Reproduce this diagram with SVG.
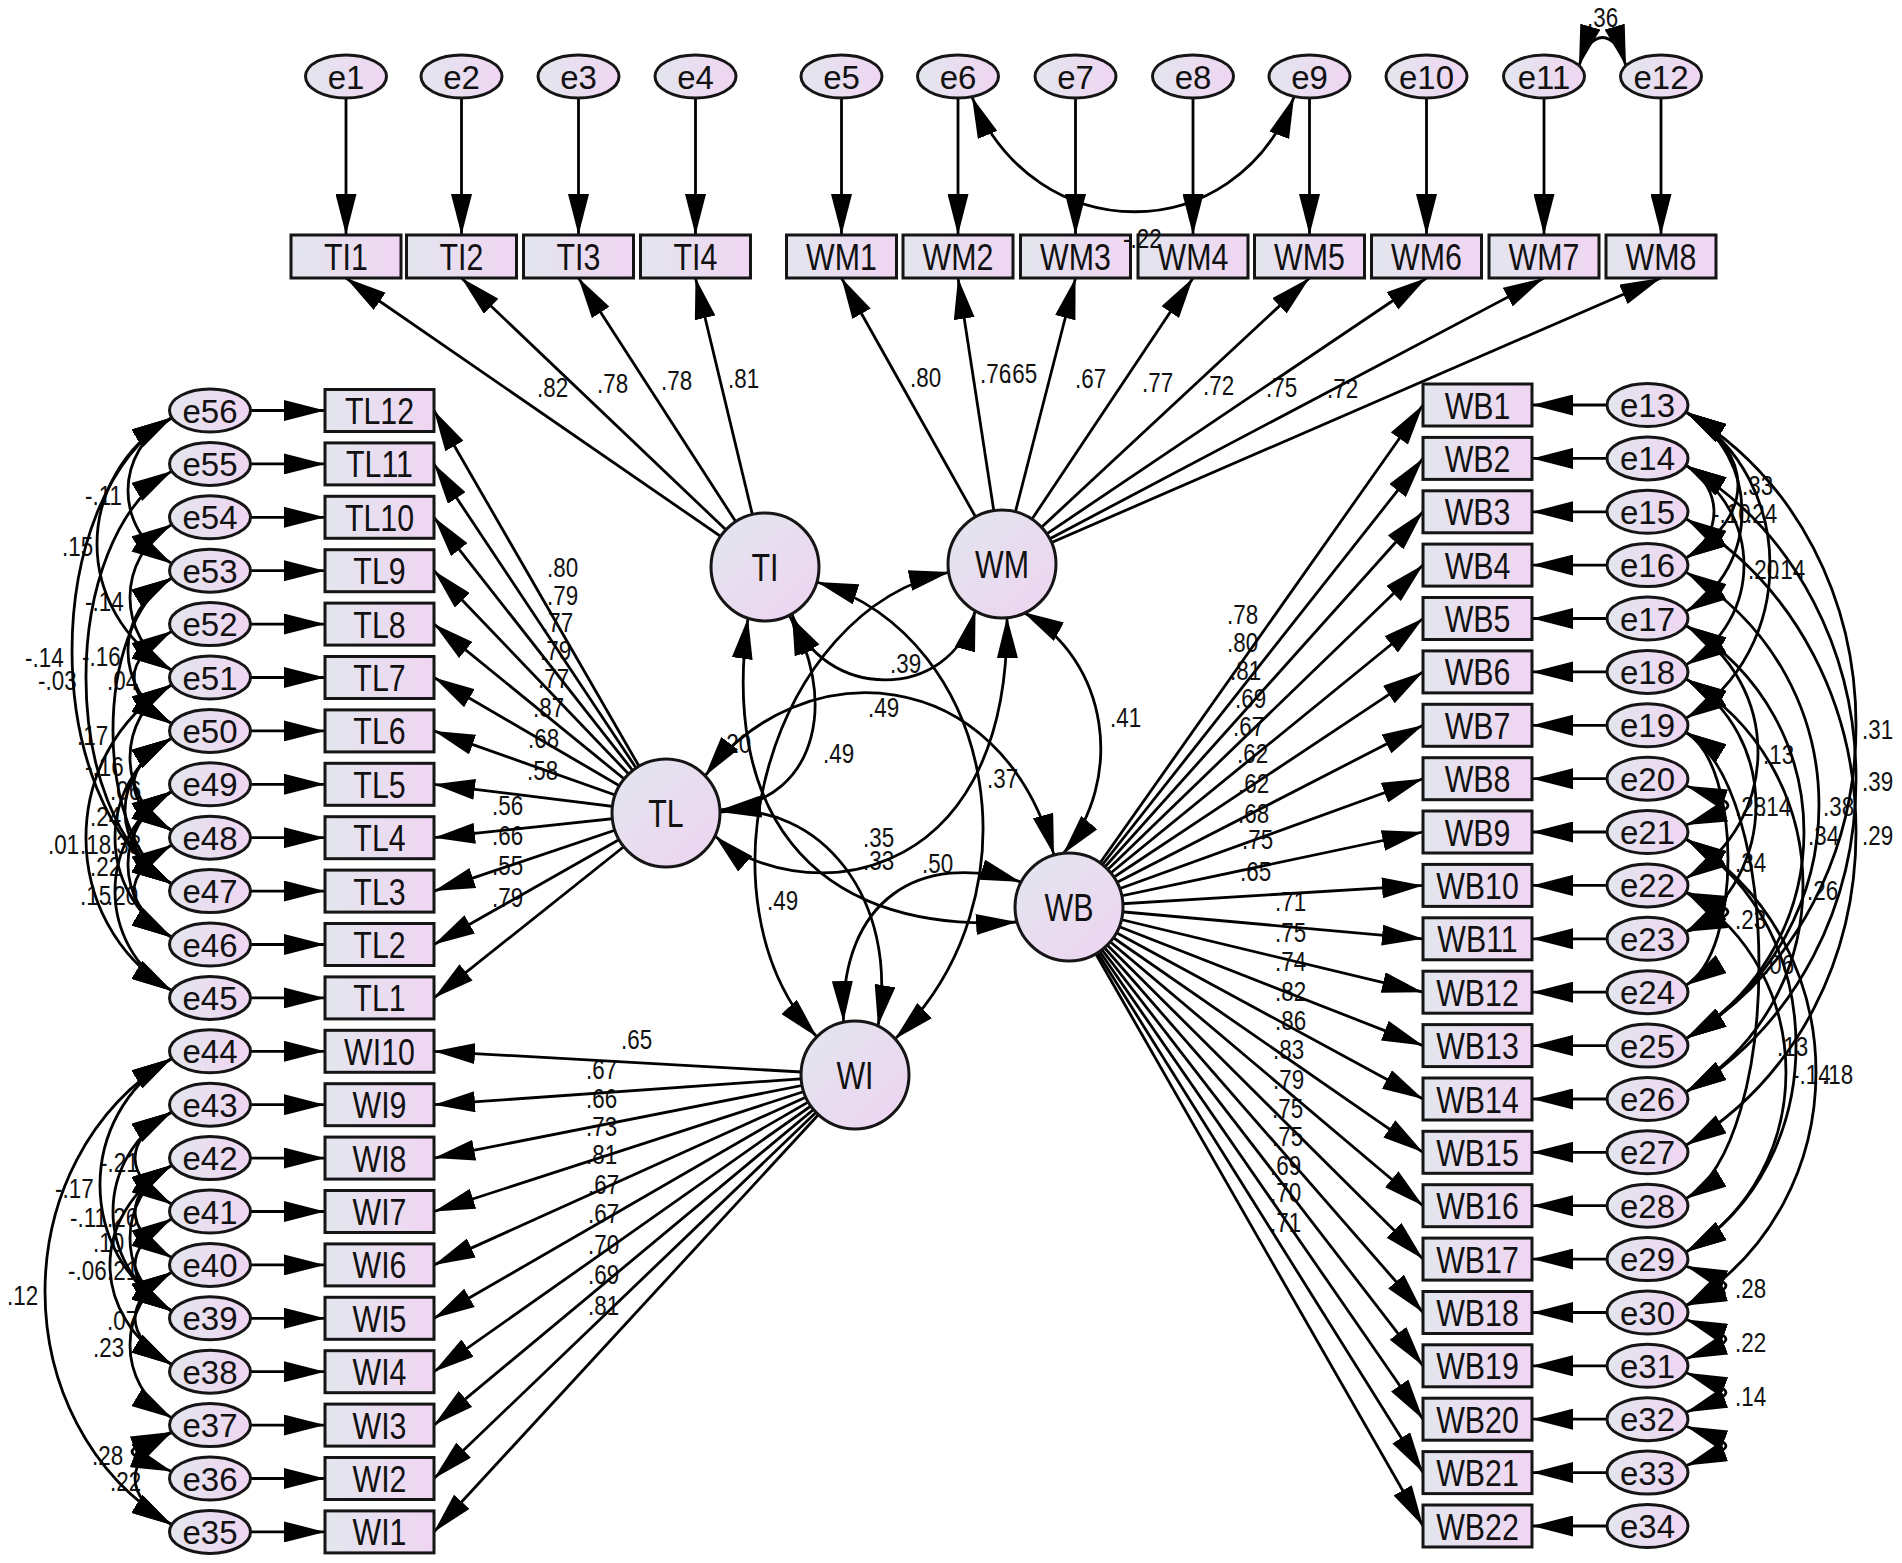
<svg xmlns="http://www.w3.org/2000/svg" width="1902" height="1563" viewBox="0 0 1902 1563">
<defs>
<style>
.ln{stroke:#000;stroke-width:2.8;fill:none;marker-end:url(#ah)}
.cv{stroke:#000;stroke-width:2.8;fill:none;marker-start:url(#ah);marker-end:url(#ah)}
.box{fill:url(#gb);stroke:#151515;stroke-width:3}
.el{fill:url(#gb);stroke:#151515;stroke-width:3}
.lat{fill:url(#gc);stroke:#151515;stroke-width:3}
text{font-family:"Liberation Sans",Arial,sans-serif;fill:#111}
.tb{font-size:37px;text-anchor:middle}
.te{font-size:33px;text-anchor:middle}
.tt{font-size:38px;text-anchor:middle}
.tn{font-size:28px}
</style>
<linearGradient id="gb" x1="0" y1="0" x2="1" y2="0"><stop offset="0" stop-color="#e3e6ee"/><stop offset="1" stop-color="#f0d5f2"/></linearGradient>
<linearGradient id="gc" x1="0" y1="0" x2="1" y2="1"><stop offset="0" stop-color="#e2e6ee"/><stop offset="1" stop-color="#eed3f1"/></linearGradient>
<marker id="ah" viewBox="0 0 41 21" refX="41" refY="10.5" markerWidth="41" markerHeight="21" markerUnits="userSpaceOnUse" orient="auto-start-reverse"><path d="M0,0 L41,10.5 L0,21 Z" fill="#000"/></marker>
</defs>
<rect width="1902" height="1563" fill="#fff"/>

<g id="edge-labels">
<text class="tn" transform="translate(537,397) scale(0.8,1)">.82</text>
<text class="tn" transform="translate(597,393) scale(0.8,1)">.78</text>
<text class="tn" transform="translate(661,390) scale(0.8,1)">.78</text>
<text class="tn" transform="translate(728,388) scale(0.8,1)">.81</text>
<text class="tn" transform="translate(910,387) scale(0.8,1)">.80</text>
<text class="tn" transform="translate(980,383) scale(0.8,1)">.76</text>
<text class="tn" transform="translate(1006,383) scale(0.8,1)">.65</text>
<text class="tn" transform="translate(1075,388) scale(0.8,1)">.67</text>
<text class="tn" transform="translate(1142,392) scale(0.8,1)">.77</text>
<text class="tn" transform="translate(1203,395) scale(0.8,1)">.72</text>
<text class="tn" transform="translate(1266,397) scale(0.8,1)">.75</text>
<text class="tn" transform="translate(1327,398) scale(0.8,1)">.72</text>
<text class="tn" transform="translate(1587,27) scale(0.8,1)">.36</text>
<text class="tn" transform="translate(547,577) scale(0.8,1)">.80</text>
<text class="tn" transform="translate(547,605) scale(0.8,1)">.79</text>
<text class="tn" transform="translate(542,632) scale(0.8,1)">.77</text>
<text class="tn" transform="translate(540,660) scale(0.8,1)">.79</text>
<text class="tn" transform="translate(538,688) scale(0.8,1)">.77</text>
<text class="tn" transform="translate(533,717) scale(0.8,1)">.87</text>
<text class="tn" transform="translate(528,748) scale(0.8,1)">.68</text>
<text class="tn" transform="translate(527,780) scale(0.8,1)">.58</text>
<text class="tn" transform="translate(492,815) scale(0.8,1)">.56</text>
<text class="tn" transform="translate(492,845) scale(0.8,1)">.66</text>
<text class="tn" transform="translate(492,875) scale(0.8,1)">.55</text>
<text class="tn" transform="translate(492,907) scale(0.8,1)">.79</text>
<text class="tn" transform="translate(621,1049) scale(0.8,1)">.65</text>
<text class="tn" transform="translate(586,1079) scale(0.8,1)">.67</text>
<text class="tn" transform="translate(586,1108) scale(0.8,1)">.66</text>
<text class="tn" transform="translate(586,1136) scale(0.8,1)">.73</text>
<text class="tn" transform="translate(586,1164) scale(0.8,1)">.81</text>
<text class="tn" transform="translate(588,1194) scale(0.8,1)">.67</text>
<text class="tn" transform="translate(588,1223) scale(0.8,1)">.67</text>
<text class="tn" transform="translate(588,1254) scale(0.8,1)">.70</text>
<text class="tn" transform="translate(588,1284) scale(0.8,1)">.69</text>
<text class="tn" transform="translate(588,1315) scale(0.8,1)">.81</text>
<text class="tn" transform="translate(1227,624) scale(0.8,1)">.78</text>
<text class="tn" transform="translate(1227,652) scale(0.8,1)">.80</text>
<text class="tn" transform="translate(1230,680) scale(0.8,1)">.81</text>
<text class="tn" transform="translate(1235,708) scale(0.8,1)">.69</text>
<text class="tn" transform="translate(1233,736) scale(0.8,1)">.67</text>
<text class="tn" transform="translate(1237,763) scale(0.8,1)">.62</text>
<text class="tn" transform="translate(1238,793) scale(0.8,1)">.62</text>
<text class="tn" transform="translate(1238,823) scale(0.8,1)">.68</text>
<text class="tn" transform="translate(1242,849) scale(0.8,1)">.75</text>
<text class="tn" transform="translate(1240,881) scale(0.8,1)">.65</text>
<text class="tn" transform="translate(1275,911) scale(0.8,1)">.71</text>
<text class="tn" transform="translate(1275,942) scale(0.8,1)">.75</text>
<text class="tn" transform="translate(1275,971) scale(0.8,1)">.74</text>
<text class="tn" transform="translate(1275,1001) scale(0.8,1)">.82</text>
<text class="tn" transform="translate(1275,1030) scale(0.8,1)">.86</text>
<text class="tn" transform="translate(1273,1059) scale(0.8,1)">.83</text>
<text class="tn" transform="translate(1273,1089) scale(0.8,1)">.79</text>
<text class="tn" transform="translate(1272,1118) scale(0.8,1)">.75</text>
<text class="tn" transform="translate(1272,1146) scale(0.8,1)">.75</text>
<text class="tn" transform="translate(1270,1175) scale(0.8,1)">.69</text>
<text class="tn" transform="translate(1270,1202) scale(0.8,1)">.70</text>
<text class="tn" transform="translate(1270,1232) scale(0.8,1)">.71</text>
<text class="tn" transform="translate(890,673) scale(0.8,1)">.39</text>
<text class="tn" transform="translate(868,717) scale(0.8,1)">.49</text>
<text class="tn" transform="translate(823,763) scale(0.8,1)">.49</text>
<text class="tn" transform="translate(767,910) scale(0.8,1)">.49</text>
<text class="tn" transform="translate(1110,727) scale(0.8,1)">.41</text>
<text class="tn" transform="translate(987,788) scale(0.8,1)">.37</text>
<text class="tn" transform="translate(863,847) scale(0.8,1)">.35</text>
<text class="tn" transform="translate(863,870) scale(0.8,1)">.33</text>
<text class="tn" transform="translate(922,873) scale(0.8,1)">.50</text>
<text class="tn" transform="translate(720,753) scale(0.8,1)">.20</text>
<text class="tn" transform="translate(85,505) scale(0.8,1)">-.11</text>
<text class="tn" transform="translate(62,556) scale(0.8,1)">.15</text>
<text class="tn" transform="translate(85,611) scale(0.8,1)">-.14</text>
<text class="tn" transform="translate(25,667) scale(0.8,1)">-.14</text>
<text class="tn" transform="translate(82,666) scale(0.8,1)">-.16</text>
<text class="tn" transform="translate(38,690) scale(0.8,1)">-.03</text>
<text class="tn" transform="translate(107,690) scale(0.8,1)">.04</text>
<text class="tn" transform="translate(77,745) scale(0.8,1)">.17</text>
<text class="tn" transform="translate(85,776) scale(0.8,1)">-.16</text>
<text class="tn" transform="translate(110,800) scale(0.8,1)">.06</text>
<text class="tn" transform="translate(90,826) scale(0.8,1)">.24</text>
<text class="tn" transform="translate(48,854) scale(0.8,1)">.01</text>
<text class="tn" transform="translate(80,854) scale(0.8,1)">.18</text>
<text class="tn" transform="translate(110,854) scale(0.8,1)">.33</text>
<text class="tn" transform="translate(90,876) scale(0.8,1)">.22</text>
<text class="tn" transform="translate(80,905) scale(0.8,1)">.15</text>
<text class="tn" transform="translate(107,905) scale(0.8,1)">.20</text>
<text class="tn" transform="translate(100,1172) scale(0.8,1)">-.21</text>
<text class="tn" transform="translate(55,1198) scale(0.8,1)">-.17</text>
<text class="tn" transform="translate(70,1227) scale(0.8,1)">-.11</text>
<text class="tn" transform="translate(107,1227) scale(0.8,1)">.26</text>
<text class="tn" transform="translate(93,1252) scale(0.8,1)">.10</text>
<text class="tn" transform="translate(68,1280) scale(0.8,1)">-.06</text>
<text class="tn" transform="translate(107,1280) scale(0.8,1)">.21</text>
<text class="tn" transform="translate(7,1305) scale(0.8,1)">.12</text>
<text class="tn" transform="translate(107,1330) scale(0.8,1)">.07</text>
<text class="tn" transform="translate(93,1357) scale(0.8,1)">.23</text>
<text class="tn" transform="translate(92,1465) scale(0.8,1)">.28</text>
<text class="tn" transform="translate(110,1491) scale(0.8,1)">.22</text>
<text class="tn" transform="translate(1742,495) scale(0.8,1)">.33</text>
<text class="tn" transform="translate(1712,523) scale(0.8,1)">-.10</text>
<text class="tn" transform="translate(1746,523) scale(0.8,1)">.24</text>
<text class="tn" transform="translate(1748,579) scale(0.8,1)">.20</text>
<text class="tn" transform="translate(1774,579) scale(0.8,1)">.14</text>
<text class="tn" transform="translate(1763,764) scale(0.8,1)">.13</text>
<text class="tn" transform="translate(1862,739) scale(0.8,1)">.31</text>
<text class="tn" transform="translate(1862,791) scale(0.8,1)">.39</text>
<text class="tn" transform="translate(1862,845) scale(0.8,1)">.29</text>
<text class="tn" transform="translate(1735,816) scale(0.8,1)">.28</text>
<text class="tn" transform="translate(1760,816) scale(0.8,1)">.14</text>
<text class="tn" transform="translate(1823,816) scale(0.8,1)">.38</text>
<text class="tn" transform="translate(1808,845) scale(0.8,1)">.34</text>
<text class="tn" transform="translate(1735,872) scale(0.8,1)">.34</text>
<text class="tn" transform="translate(1807,900) scale(0.8,1)">.26</text>
<text class="tn" transform="translate(1735,929) scale(0.8,1)">.23</text>
<text class="tn" transform="translate(1763,974) scale(0.8,1)">.06</text>
<text class="tn" transform="translate(1777,1056) scale(0.8,1)">.13</text>
<text class="tn" transform="translate(1792,1084) scale(0.8,1)">-.14</text>
<text class="tn" transform="translate(1822,1084) scale(0.8,1)">.18</text>
<text class="tn" transform="translate(1735,1298) scale(0.8,1)">.28</text>
<text class="tn" transform="translate(1735,1352) scale(0.8,1)">.22</text>
<text class="tn" transform="translate(1735,1406) scale(0.8,1)">.14</text>
</g>

<g id="connectors">
<path class="ln" d="M346,98 L346,235"/>
<path class="ln" d="M461.5,98 L461.5,235"/>
<path class="ln" d="M578.5,98 L578.5,235"/>
<path class="ln" d="M695.5,98 L695.5,235"/>
<path class="ln" d="M841.5,98 L841.5,235"/>
<path class="ln" d="M958,98 L958,235"/>
<path class="ln" d="M1075.5,98 L1075.5,235"/>
<path class="ln" d="M1193,98 L1193,235"/>
<path class="ln" d="M1309.5,98 L1309.5,235"/>
<path class="ln" d="M1426.5,98 L1426.5,235"/>
<path class="ln" d="M1544,98 L1544,235"/>
<path class="ln" d="M1661,98 L1661,235"/>
<path class="cv" d="M972,97 C1035,250 1235,250 1294,97"/>
<path class="cv" d="M1579,66 C1590,28 1615,28 1626,66"/>
<path class="ln" d="M765,567 L346,278"/>
<path class="ln" d="M765,567 L461.5,278"/>
<path class="ln" d="M765,567 L578.5,278"/>
<path class="ln" d="M765,567 L695.5,278"/>
<path class="ln" d="M1002,564 L841.5,278"/>
<path class="ln" d="M1002,564 L958,278"/>
<path class="ln" d="M1002,564 L1075.5,278"/>
<path class="ln" d="M1002,564 L1193,278"/>
<path class="ln" d="M1002,564 L1309.5,278"/>
<path class="ln" d="M1002,564 L1426.5,278"/>
<path class="ln" d="M1002,564 L1544,278"/>
<path class="ln" d="M1002,564 L1661,278"/>
<path class="ln" d="M666,813 L434,410.5"/>
<path class="ln" d="M666,813 L434,463.9"/>
<path class="ln" d="M666,813 L434,517.3"/>
<path class="ln" d="M666,813 L434,570.7"/>
<path class="ln" d="M666,813 L434,624.1"/>
<path class="ln" d="M666,813 L434,677.5"/>
<path class="ln" d="M666,813 L434,730.9"/>
<path class="ln" d="M666,813 L434,784.3"/>
<path class="ln" d="M666,813 L434,837.7"/>
<path class="ln" d="M666,813 L434,891.1"/>
<path class="ln" d="M666,813 L434,944.5"/>
<path class="ln" d="M666,813 L434,997.9"/>
<path class="ln" d="M855,1075 L434,1051.3"/>
<path class="ln" d="M855,1075 L434,1104.7"/>
<path class="ln" d="M855,1075 L434,1158.1"/>
<path class="ln" d="M855,1075 L434,1211.5"/>
<path class="ln" d="M855,1075 L434,1264.9"/>
<path class="ln" d="M855,1075 L434,1318.3"/>
<path class="ln" d="M855,1075 L434,1371.7"/>
<path class="ln" d="M855,1075 L434,1425.1"/>
<path class="ln" d="M855,1075 L434,1478.5"/>
<path class="ln" d="M855,1075 L434,1531.9"/>
<path class="ln" d="M1069,907 L1423,405"/>
<path class="ln" d="M1069,907 L1423,458.4"/>
<path class="ln" d="M1069,907 L1423,511.8"/>
<path class="ln" d="M1069,907 L1423,565.1"/>
<path class="ln" d="M1069,907 L1423,618.5"/>
<path class="ln" d="M1069,907 L1423,671.9"/>
<path class="ln" d="M1069,907 L1423,725.3"/>
<path class="ln" d="M1069,907 L1423,778.7"/>
<path class="ln" d="M1069,907 L1423,832"/>
<path class="ln" d="M1069,907 L1423,885.4"/>
<path class="ln" d="M1069,907 L1423,938.8"/>
<path class="ln" d="M1069,907 L1423,992.2"/>
<path class="ln" d="M1069,907 L1423,1045.6"/>
<path class="ln" d="M1069,907 L1423,1099"/>
<path class="ln" d="M1069,907 L1423,1152.3"/>
<path class="ln" d="M1069,907 L1423,1205.7"/>
<path class="ln" d="M1069,907 L1423,1259.1"/>
<path class="ln" d="M1069,907 L1423,1312.5"/>
<path class="ln" d="M1069,907 L1423,1365.8"/>
<path class="ln" d="M1069,907 L1423,1419.2"/>
<path class="ln" d="M1069,907 L1423,1472.6"/>
<path class="ln" d="M1069,907 L1423,1526"/>
<path class="ln" d="M250.5,410.5 L325,410.5"/>
<path class="ln" d="M250.5,463.9 L325,463.9"/>
<path class="ln" d="M250.5,517.3 L325,517.3"/>
<path class="ln" d="M250.5,570.7 L325,570.7"/>
<path class="ln" d="M250.5,624.1 L325,624.1"/>
<path class="ln" d="M250.5,677.5 L325,677.5"/>
<path class="ln" d="M250.5,730.9 L325,730.9"/>
<path class="ln" d="M250.5,784.3 L325,784.3"/>
<path class="ln" d="M250.5,837.7 L325,837.7"/>
<path class="ln" d="M250.5,891.1 L325,891.1"/>
<path class="ln" d="M250.5,944.5 L325,944.5"/>
<path class="ln" d="M250.5,997.9 L325,997.9"/>
<path class="ln" d="M250.5,1051.3 L325,1051.3"/>
<path class="ln" d="M250.5,1104.7 L325,1104.7"/>
<path class="ln" d="M250.5,1158.1 L325,1158.1"/>
<path class="ln" d="M250.5,1211.5 L325,1211.5"/>
<path class="ln" d="M250.5,1264.9 L325,1264.9"/>
<path class="ln" d="M250.5,1318.3 L325,1318.3"/>
<path class="ln" d="M250.5,1371.7 L325,1371.7"/>
<path class="ln" d="M250.5,1425.1 L325,1425.1"/>
<path class="ln" d="M250.5,1478.5 L325,1478.5"/>
<path class="ln" d="M250.5,1531.9 L325,1531.9"/>
<path class="ln" d="M1607,405 L1532,405"/>
<path class="ln" d="M1607,458.4 L1532,458.4"/>
<path class="ln" d="M1607,511.8 L1532,511.8"/>
<path class="ln" d="M1607,565.1 L1532,565.1"/>
<path class="ln" d="M1607,618.5 L1532,618.5"/>
<path class="ln" d="M1607,671.9 L1532,671.9"/>
<path class="ln" d="M1607,725.3 L1532,725.3"/>
<path class="ln" d="M1607,778.7 L1532,778.7"/>
<path class="ln" d="M1607,832 L1532,832"/>
<path class="ln" d="M1607,885.4 L1532,885.4"/>
<path class="ln" d="M1607,938.8 L1532,938.8"/>
<path class="ln" d="M1607,992.2 L1532,992.2"/>
<path class="ln" d="M1607,1045.6 L1532,1045.6"/>
<path class="ln" d="M1607,1099 L1532,1099"/>
<path class="ln" d="M1607,1152.3 L1532,1152.3"/>
<path class="ln" d="M1607,1205.7 L1532,1205.7"/>
<path class="ln" d="M1607,1259.1 L1532,1259.1"/>
<path class="ln" d="M1607,1312.5 L1532,1312.5"/>
<path class="ln" d="M1607,1365.8 L1532,1365.8"/>
<path class="ln" d="M1607,1419.2 L1532,1419.2"/>
<path class="ln" d="M1607,1472.6 L1532,1472.6"/>
<path class="ln" d="M1607,1526 L1532,1526"/>
<path class="cv" d="M792,614 C820,700 950,705 975.5,610"/>
<path class="cv" d="M789,615 C835,690 825,800 720,810"/>
<path class="cv" d="M748,618 C722,800 800,935 1017,922"/>
<path class="cv" d="M950,572 C770,610 690,900 817,1037"/>
<path class="cv" d="M705,776 C800,650 1000,660 1054,855"/>
<path class="cv" d="M817,582 C1000,640 1040,900 895,1039"/>
<path class="cv" d="M715,836 C790,905 1010,900 1007,617"/>
<path class="cv" d="M1023,612 C1110,660 1125,780 1063,854"/>
<path class="cv" d="M843.5,1022 C840,900 920,850 1021,882"/>
<path class="cv" d="M878,1026 C900,900 820,800 720,812"/>
<path class="cv" d="M172,417.5 C113.3,452.7 113.3,528.5 172,563.7"/>
<path class="cv" d="M172,417.5 C72,477.5 72,610.5 172,670.5"/>
<path class="cv" d="M172,524.3 C116,557.9 116,636.9 172,670.5"/>
<path class="cv" d="M172,417.5 C38.7,497.5 38.7,804.1 172,884.1"/>
<path class="cv" d="M172,577.7 C113.3,612.9 113.3,688.7 172,723.9"/>
<path class="cv" d="M172,470.9 C57.3,539.7 57.3,815.3 172,884.1"/>
<path class="cv" d="M172,631.1 C121.3,661.5 121.3,693.5 172,723.9"/>
<path class="cv" d="M172,577.7 C93.3,624.9 93.3,836.9 172,884.1"/>
<path class="cv" d="M172,684.5 C116,718.1 116,797.1 172,830.7"/>
<path class="cv" d="M172,737.9 C121.3,768.3 121.3,800.3 172,830.7"/>
<path class="cv" d="M172,737.9 C109.3,775.5 109.3,846.5 172,884.1"/>
<path class="cv" d="M172,684.5 C57.3,753.3 57.3,922.1 172,990.9"/>
<path class="cv" d="M172,737.9 C96,783.5 96,891.9 172,937.5"/>
<path class="cv" d="M172,791.3 C121.3,821.7 121.3,853.7 172,884.1"/>
<path class="cv" d="M172,791.3 C113.3,826.5 113.3,902.3 172,937.5"/>
<path class="cv" d="M172,791.3 C96,836.9 96,945.3 172,990.9"/>
<path class="cv" d="M172,844.7 C121.3,875.1 121.3,907.1 172,937.5"/>
<path class="cv" d="M172,1111.7 C122.7,1141.3 122.7,1174.9 172,1204.5"/>
<path class="cv" d="M172,1058.3 C76,1115.9 76,1253.7 172,1311.3"/>
<path class="cv" d="M172,1111.7 C93.3,1158.9 93.3,1264.1 172,1311.3"/>
<path class="cv" d="M172,1165.1 C122.7,1194.7 122.7,1228.3 172,1257.9"/>
<path class="cv" d="M172,1165.1 C116,1198.7 116,1277.7 172,1311.3"/>
<path class="cv" d="M172,1165.1 C89.3,1214.7 89.3,1315.1 172,1364.7"/>
<path class="cv" d="M172,1218.5 C122.7,1248.1 122.7,1281.7 172,1311.3"/>
<path class="cv" d="M172,1058.3 C2.7,1159.9 2.7,1423.3 172,1524.9"/>
<path class="cv" d="M172,1271.9 C122.7,1301.5 122.7,1335.1 172,1364.7"/>
<path class="cv" d="M172,1271.9 C116,1305.5 116,1384.5 172,1418.1"/>
<path class="cv" d="M172,1432.1 C118.7,1451.8 118.7,1451.8 172,1471.5"/>
<path class="cv" d="M172,1432.1 C122.7,1461.7 122.7,1495.3 172,1524.9"/>
<path class="cv" d="M1686,412 C1755.3,453.6 1755.3,516.5 1686,558.1"/>
<path class="cv" d="M1686,465.4 C1723.3,487.8 1723.3,535.7 1686,558.1"/>
<path class="cv" d="M1686,412 C1760.7,456.8 1760.7,566.7 1686,611.5"/>
<path class="cv" d="M1686,465.4 C1763.3,511.8 1763.3,618.5 1686,664.9"/>
<path class="cv" d="M1686,412 C1798,479.2 1798,651.1 1686,718.3"/>
<path class="cv" d="M1686,625.5 C1782,683.1 1782,820.8 1686,878.4"/>
<path class="cv" d="M1686,412 C1912.7,548 1912.7,902.6 1686,1038.6"/>
<path class="cv" d="M1686,465.4 C1912.7,601.4 1912.7,956 1686,1092"/>
<path class="cv" d="M1686,518.8 C1912.7,654.8 1912.7,1009.3 1686,1145.3"/>
<path class="cv" d="M1686,785.7 C1742,805.4 1742,805.4 1686,825"/>
<path class="cv" d="M1686,678.9 C1779.3,734.9 1779.3,875.8 1686,931.8"/>
<path class="cv" d="M1686,572.1 C1863.3,678.5 1863.3,932.2 1686,1038.6"/>
<path class="cv" d="M1686,625.5 C1843.3,719.9 1843.3,944.2 1686,1038.6"/>
<path class="cv" d="M1686,732.3 C1742,765.9 1742,951.6 1686,985.2"/>
<path class="cv" d="M1686,678.9 C1842,772.5 1842,998.4 1686,1092"/>
<path class="cv" d="M1686,892.4 C1742,912.1 1742,912.1 1686,931.8"/>
<path class="cv" d="M1686,732.3 C1783.3,790.7 1783.3,1140.3 1686,1198.7"/>
<path class="cv" d="M1686,839 C1832.7,927 1832.7,1164.1 1686,1252.1"/>
<path class="cv" d="M1686,892.4 C1819.3,972.4 1819.3,1172.1 1686,1252.1"/>
<path class="cv" d="M1686,839 C1859.3,943 1859.3,1201.5 1686,1305.5"/>
<path class="cv" d="M1686,1266.1 C1739.3,1285.8 1739.3,1285.8 1686,1305.5"/>
<path class="cv" d="M1686,1319.5 C1739.3,1339.2 1739.3,1339.2 1686,1358.8"/>
<path class="cv" d="M1686,1372.8 C1739.3,1392.5 1739.3,1392.5 1686,1412.2"/>
<path class="cv" d="M1686,1426.2 C1739.3,1445.9 1739.3,1445.9 1686,1465.6"/>
</g>

<g id="TI"><circle class="lat" cx="765" cy="567" r="54"/><text class="tt" transform="translate(765,581) scale(0.8,1)">TI</text></g>
<g id="WM"><circle class="lat" cx="1002" cy="564" r="54"/><text class="tt" transform="translate(1002,578) scale(0.8,1)">WM</text></g>
<g id="TL"><circle class="lat" cx="666" cy="813" r="54"/><text class="tt" transform="translate(666,827) scale(0.8,1)">TL</text></g>
<g id="WB"><circle class="lat" cx="1069" cy="907" r="54"/><text class="tt" transform="translate(1069,921) scale(0.8,1)">WB</text></g>
<g id="WI"><circle class="lat" cx="855" cy="1075" r="54"/><text class="tt" transform="translate(855,1089) scale(0.8,1)">WI</text></g>

<g id="TI1"><rect class="box" x="291" y="235" width="110" height="43"/><text class="tb" transform="translate(346,270) scale(0.82,1)">TI1</text></g>
<g id="TI2"><rect class="box" x="406.5" y="235" width="110" height="43"/><text class="tb" transform="translate(461.5,270) scale(0.82,1)">TI2</text></g>
<g id="TI3"><rect class="box" x="523.5" y="235" width="110" height="43"/><text class="tb" transform="translate(578.5,270) scale(0.82,1)">TI3</text></g>
<g id="TI4"><rect class="box" x="640.5" y="235" width="110" height="43"/><text class="tb" transform="translate(695.5,270) scale(0.82,1)">TI4</text></g>
<g id="WM1"><rect class="box" x="786.5" y="235" width="110" height="43"/><text class="tb" transform="translate(841.5,270) scale(0.82,1)">WM1</text></g>
<g id="WM2"><rect class="box" x="903" y="235" width="110" height="43"/><text class="tb" transform="translate(958,270) scale(0.82,1)">WM2</text></g>
<g id="WM3"><rect class="box" x="1020.5" y="235" width="110" height="43"/><text class="tb" transform="translate(1075.5,270) scale(0.82,1)">WM3</text></g>
<g id="WM4"><rect class="box" x="1138" y="235" width="110" height="43"/><text class="tb" transform="translate(1193,270) scale(0.82,1)">WM4</text></g>
<g id="WM5"><rect class="box" x="1254.5" y="235" width="110" height="43"/><text class="tb" transform="translate(1309.5,270) scale(0.82,1)">WM5</text></g>
<g id="WM6"><rect class="box" x="1371.5" y="235" width="110" height="43"/><text class="tb" transform="translate(1426.5,270) scale(0.82,1)">WM6</text></g>
<g id="WM7"><rect class="box" x="1489" y="235" width="110" height="43"/><text class="tb" transform="translate(1544,270) scale(0.82,1)">WM7</text></g>
<g id="WM8"><rect class="box" x="1606" y="235" width="110" height="43"/><text class="tb" transform="translate(1661,270) scale(0.82,1)">WM8</text></g>

<g id="e1"><ellipse class="el" cx="346" cy="76.5" rx="40.5" ry="21.5"/><text class="te" x="346" y="88.5">e1</text></g>
<g id="e2"><ellipse class="el" cx="461.5" cy="76.5" rx="40.5" ry="21.5"/><text class="te" x="461.5" y="88.5">e2</text></g>
<g id="e3"><ellipse class="el" cx="578.5" cy="76.5" rx="40.5" ry="21.5"/><text class="te" x="578.5" y="88.5">e3</text></g>
<g id="e4"><ellipse class="el" cx="695.5" cy="76.5" rx="40.5" ry="21.5"/><text class="te" x="695.5" y="88.5">e4</text></g>
<g id="e5"><ellipse class="el" cx="841.5" cy="76.5" rx="40.5" ry="21.5"/><text class="te" x="841.5" y="88.5">e5</text></g>
<g id="e6"><ellipse class="el" cx="958" cy="76.5" rx="40.5" ry="21.5"/><text class="te" x="958" y="88.5">e6</text></g>
<g id="e7"><ellipse class="el" cx="1075.5" cy="76.5" rx="40.5" ry="21.5"/><text class="te" x="1075.5" y="88.5">e7</text></g>
<g id="e8"><ellipse class="el" cx="1193" cy="76.5" rx="40.5" ry="21.5"/><text class="te" x="1193" y="88.5">e8</text></g>
<g id="e9"><ellipse class="el" cx="1309.5" cy="76.5" rx="40.5" ry="21.5"/><text class="te" x="1309.5" y="88.5">e9</text></g>
<g id="e10"><ellipse class="el" cx="1426.5" cy="76.5" rx="40.5" ry="21.5"/><text class="te" x="1426.5" y="88.5">e10</text></g>
<g id="e11"><ellipse class="el" cx="1544" cy="76.5" rx="40.5" ry="21.5"/><text class="te" x="1544" y="88.5">e11</text></g>
<g id="e12"><ellipse class="el" cx="1661" cy="76.5" rx="40.5" ry="21.5"/><text class="te" x="1661" y="88.5">e12</text></g>

<g id="TL12"><rect class="box" x="325" y="389.5" width="109" height="42"/><text class="tb" transform="translate(379.5,424) scale(0.82,1)">TL12</text></g>
<g id="TL11"><rect class="box" x="325" y="442.9" width="109" height="42"/><text class="tb" transform="translate(379.5,477.4) scale(0.82,1)">TL11</text></g>
<g id="TL10"><rect class="box" x="325" y="496.3" width="109" height="42"/><text class="tb" transform="translate(379.5,530.8) scale(0.82,1)">TL10</text></g>
<g id="TL9"><rect class="box" x="325" y="549.7" width="109" height="42"/><text class="tb" transform="translate(379.5,584.2) scale(0.82,1)">TL9</text></g>
<g id="TL8"><rect class="box" x="325" y="603.1" width="109" height="42"/><text class="tb" transform="translate(379.5,637.6) scale(0.82,1)">TL8</text></g>
<g id="TL7"><rect class="box" x="325" y="656.5" width="109" height="42"/><text class="tb" transform="translate(379.5,691) scale(0.82,1)">TL7</text></g>
<g id="TL6"><rect class="box" x="325" y="709.9" width="109" height="42"/><text class="tb" transform="translate(379.5,744.4) scale(0.82,1)">TL6</text></g>
<g id="TL5"><rect class="box" x="325" y="763.3" width="109" height="42"/><text class="tb" transform="translate(379.5,797.8) scale(0.82,1)">TL5</text></g>
<g id="TL4"><rect class="box" x="325" y="816.7" width="109" height="42"/><text class="tb" transform="translate(379.5,851.2) scale(0.82,1)">TL4</text></g>
<g id="TL3"><rect class="box" x="325" y="870.1" width="109" height="42"/><text class="tb" transform="translate(379.5,904.6) scale(0.82,1)">TL3</text></g>
<g id="TL2"><rect class="box" x="325" y="923.5" width="109" height="42"/><text class="tb" transform="translate(379.5,958) scale(0.82,1)">TL2</text></g>
<g id="TL1"><rect class="box" x="325" y="976.9" width="109" height="42"/><text class="tb" transform="translate(379.5,1011.4) scale(0.82,1)">TL1</text></g>
<g id="WI10"><rect class="box" x="325" y="1030.3" width="109" height="42"/><text class="tb" transform="translate(379.5,1064.8) scale(0.82,1)">WI10</text></g>
<g id="WI9"><rect class="box" x="325" y="1083.7" width="109" height="42"/><text class="tb" transform="translate(379.5,1118.2) scale(0.82,1)">WI9</text></g>
<g id="WI8"><rect class="box" x="325" y="1137.1" width="109" height="42"/><text class="tb" transform="translate(379.5,1171.6) scale(0.82,1)">WI8</text></g>
<g id="WI7"><rect class="box" x="325" y="1190.5" width="109" height="42"/><text class="tb" transform="translate(379.5,1225) scale(0.82,1)">WI7</text></g>
<g id="WI6"><rect class="box" x="325" y="1243.9" width="109" height="42"/><text class="tb" transform="translate(379.5,1278.4) scale(0.82,1)">WI6</text></g>
<g id="WI5"><rect class="box" x="325" y="1297.3" width="109" height="42"/><text class="tb" transform="translate(379.5,1331.8) scale(0.82,1)">WI5</text></g>
<g id="WI4"><rect class="box" x="325" y="1350.7" width="109" height="42"/><text class="tb" transform="translate(379.5,1385.2) scale(0.82,1)">WI4</text></g>
<g id="WI3"><rect class="box" x="325" y="1404.1" width="109" height="42"/><text class="tb" transform="translate(379.5,1438.6) scale(0.82,1)">WI3</text></g>
<g id="WI2"><rect class="box" x="325" y="1457.5" width="109" height="42"/><text class="tb" transform="translate(379.5,1492) scale(0.82,1)">WI2</text></g>
<g id="WI1"><rect class="box" x="325" y="1510.9" width="109" height="42"/><text class="tb" transform="translate(379.5,1545.4) scale(0.82,1)">WI1</text></g>

<g id="e56"><ellipse class="el" cx="210" cy="410.5" rx="40.5" ry="21.5"/><text class="te" x="210" y="422.5">e56</text></g>
<g id="e55"><ellipse class="el" cx="210" cy="463.9" rx="40.5" ry="21.5"/><text class="te" x="210" y="475.9">e55</text></g>
<g id="e54"><ellipse class="el" cx="210" cy="517.3" rx="40.5" ry="21.5"/><text class="te" x="210" y="529.3">e54</text></g>
<g id="e53"><ellipse class="el" cx="210" cy="570.7" rx="40.5" ry="21.5"/><text class="te" x="210" y="582.7">e53</text></g>
<g id="e52"><ellipse class="el" cx="210" cy="624.1" rx="40.5" ry="21.5"/><text class="te" x="210" y="636.1">e52</text></g>
<g id="e51"><ellipse class="el" cx="210" cy="677.5" rx="40.5" ry="21.5"/><text class="te" x="210" y="689.5">e51</text></g>
<g id="e50"><ellipse class="el" cx="210" cy="730.9" rx="40.5" ry="21.5"/><text class="te" x="210" y="742.9">e50</text></g>
<g id="e49"><ellipse class="el" cx="210" cy="784.3" rx="40.5" ry="21.5"/><text class="te" x="210" y="796.3">e49</text></g>
<g id="e48"><ellipse class="el" cx="210" cy="837.7" rx="40.5" ry="21.5"/><text class="te" x="210" y="849.7">e48</text></g>
<g id="e47"><ellipse class="el" cx="210" cy="891.1" rx="40.5" ry="21.5"/><text class="te" x="210" y="903.1">e47</text></g>
<g id="e46"><ellipse class="el" cx="210" cy="944.5" rx="40.5" ry="21.5"/><text class="te" x="210" y="956.5">e46</text></g>
<g id="e45"><ellipse class="el" cx="210" cy="997.9" rx="40.5" ry="21.5"/><text class="te" x="210" y="1009.9">e45</text></g>
<g id="e44"><ellipse class="el" cx="210" cy="1051.3" rx="40.5" ry="21.5"/><text class="te" x="210" y="1063.3">e44</text></g>
<g id="e43"><ellipse class="el" cx="210" cy="1104.7" rx="40.5" ry="21.5"/><text class="te" x="210" y="1116.7">e43</text></g>
<g id="e42"><ellipse class="el" cx="210" cy="1158.1" rx="40.5" ry="21.5"/><text class="te" x="210" y="1170.1">e42</text></g>
<g id="e41"><ellipse class="el" cx="210" cy="1211.5" rx="40.5" ry="21.5"/><text class="te" x="210" y="1223.5">e41</text></g>
<g id="e40"><ellipse class="el" cx="210" cy="1264.9" rx="40.5" ry="21.5"/><text class="te" x="210" y="1276.9">e40</text></g>
<g id="e39"><ellipse class="el" cx="210" cy="1318.3" rx="40.5" ry="21.5"/><text class="te" x="210" y="1330.3">e39</text></g>
<g id="e38"><ellipse class="el" cx="210" cy="1371.7" rx="40.5" ry="21.5"/><text class="te" x="210" y="1383.7">e38</text></g>
<g id="e37"><ellipse class="el" cx="210" cy="1425.1" rx="40.5" ry="21.5"/><text class="te" x="210" y="1437.1">e37</text></g>
<g id="e36"><ellipse class="el" cx="210" cy="1478.5" rx="40.5" ry="21.5"/><text class="te" x="210" y="1490.5">e36</text></g>
<g id="e35"><ellipse class="el" cx="210" cy="1531.9" rx="40.5" ry="21.5"/><text class="te" x="210" y="1543.9">e35</text></g>

<g id="WB1"><rect class="box" x="1423" y="384" width="109" height="42"/><text class="tb" transform="translate(1477.5,418.5) scale(0.82,1)">WB1</text></g>
<g id="WB2"><rect class="box" x="1423" y="437.4" width="109" height="42"/><text class="tb" transform="translate(1477.5,471.9) scale(0.82,1)">WB2</text></g>
<g id="WB3"><rect class="box" x="1423" y="490.8" width="109" height="42"/><text class="tb" transform="translate(1477.5,525.3) scale(0.82,1)">WB3</text></g>
<g id="WB4"><rect class="box" x="1423" y="544.1" width="109" height="42"/><text class="tb" transform="translate(1477.5,578.6) scale(0.82,1)">WB4</text></g>
<g id="WB5"><rect class="box" x="1423" y="597.5" width="109" height="42"/><text class="tb" transform="translate(1477.5,632) scale(0.82,1)">WB5</text></g>
<g id="WB6"><rect class="box" x="1423" y="650.9" width="109" height="42"/><text class="tb" transform="translate(1477.5,685.4) scale(0.82,1)">WB6</text></g>
<g id="WB7"><rect class="box" x="1423" y="704.3" width="109" height="42"/><text class="tb" transform="translate(1477.5,738.8) scale(0.82,1)">WB7</text></g>
<g id="WB8"><rect class="box" x="1423" y="757.7" width="109" height="42"/><text class="tb" transform="translate(1477.5,792.2) scale(0.82,1)">WB8</text></g>
<g id="WB9"><rect class="box" x="1423" y="811" width="109" height="42"/><text class="tb" transform="translate(1477.5,845.5) scale(0.82,1)">WB9</text></g>
<g id="WB10"><rect class="box" x="1423" y="864.4" width="109" height="42"/><text class="tb" transform="translate(1477.5,898.9) scale(0.82,1)">WB10</text></g>
<g id="WB11"><rect class="box" x="1423" y="917.8" width="109" height="42"/><text class="tb" transform="translate(1477.5,952.3) scale(0.82,1)">WB11</text></g>
<g id="WB12"><rect class="box" x="1423" y="971.2" width="109" height="42"/><text class="tb" transform="translate(1477.5,1005.7) scale(0.82,1)">WB12</text></g>
<g id="WB13"><rect class="box" x="1423" y="1024.6" width="109" height="42"/><text class="tb" transform="translate(1477.5,1059.1) scale(0.82,1)">WB13</text></g>
<g id="WB14"><rect class="box" x="1423" y="1078" width="109" height="42"/><text class="tb" transform="translate(1477.5,1112.5) scale(0.82,1)">WB14</text></g>
<g id="WB15"><rect class="box" x="1423" y="1131.3" width="109" height="42"/><text class="tb" transform="translate(1477.5,1165.8) scale(0.82,1)">WB15</text></g>
<g id="WB16"><rect class="box" x="1423" y="1184.7" width="109" height="42"/><text class="tb" transform="translate(1477.5,1219.2) scale(0.82,1)">WB16</text></g>
<g id="WB17"><rect class="box" x="1423" y="1238.1" width="109" height="42"/><text class="tb" transform="translate(1477.5,1272.6) scale(0.82,1)">WB17</text></g>
<g id="WB18"><rect class="box" x="1423" y="1291.5" width="109" height="42"/><text class="tb" transform="translate(1477.5,1326) scale(0.82,1)">WB18</text></g>
<g id="WB19"><rect class="box" x="1423" y="1344.8" width="109" height="42"/><text class="tb" transform="translate(1477.5,1379.3) scale(0.82,1)">WB19</text></g>
<g id="WB20"><rect class="box" x="1423" y="1398.2" width="109" height="42"/><text class="tb" transform="translate(1477.5,1432.7) scale(0.82,1)">WB20</text></g>
<g id="WB21"><rect class="box" x="1423" y="1451.6" width="109" height="42"/><text class="tb" transform="translate(1477.5,1486.1) scale(0.82,1)">WB21</text></g>
<g id="WB22"><rect class="box" x="1423" y="1505" width="109" height="42"/><text class="tb" transform="translate(1477.5,1539.5) scale(0.82,1)">WB22</text></g>

<g id="e13"><ellipse class="el" cx="1647.5" cy="405" rx="40.5" ry="21.5"/><text class="te" x="1647.5" y="417">e13</text></g>
<g id="e14"><ellipse class="el" cx="1647.5" cy="458.4" rx="40.5" ry="21.5"/><text class="te" x="1647.5" y="470.4">e14</text></g>
<g id="e15"><ellipse class="el" cx="1647.5" cy="511.8" rx="40.5" ry="21.5"/><text class="te" x="1647.5" y="523.8">e15</text></g>
<g id="e16"><ellipse class="el" cx="1647.5" cy="565.1" rx="40.5" ry="21.5"/><text class="te" x="1647.5" y="577.1">e16</text></g>
<g id="e17"><ellipse class="el" cx="1647.5" cy="618.5" rx="40.5" ry="21.5"/><text class="te" x="1647.5" y="630.5">e17</text></g>
<g id="e18"><ellipse class="el" cx="1647.5" cy="671.9" rx="40.5" ry="21.5"/><text class="te" x="1647.5" y="683.9">e18</text></g>
<g id="e19"><ellipse class="el" cx="1647.5" cy="725.3" rx="40.5" ry="21.5"/><text class="te" x="1647.5" y="737.3">e19</text></g>
<g id="e20"><ellipse class="el" cx="1647.5" cy="778.7" rx="40.5" ry="21.5"/><text class="te" x="1647.5" y="790.7">e20</text></g>
<g id="e21"><ellipse class="el" cx="1647.5" cy="832" rx="40.5" ry="21.5"/><text class="te" x="1647.5" y="844">e21</text></g>
<g id="e22"><ellipse class="el" cx="1647.5" cy="885.4" rx="40.5" ry="21.5"/><text class="te" x="1647.5" y="897.4">e22</text></g>
<g id="e23"><ellipse class="el" cx="1647.5" cy="938.8" rx="40.5" ry="21.5"/><text class="te" x="1647.5" y="950.8">e23</text></g>
<g id="e24"><ellipse class="el" cx="1647.5" cy="992.2" rx="40.5" ry="21.5"/><text class="te" x="1647.5" y="1004.2">e24</text></g>
<g id="e25"><ellipse class="el" cx="1647.5" cy="1045.6" rx="40.5" ry="21.5"/><text class="te" x="1647.5" y="1057.6">e25</text></g>
<g id="e26"><ellipse class="el" cx="1647.5" cy="1099" rx="40.5" ry="21.5"/><text class="te" x="1647.5" y="1111">e26</text></g>
<g id="e27"><ellipse class="el" cx="1647.5" cy="1152.3" rx="40.5" ry="21.5"/><text class="te" x="1647.5" y="1164.3">e27</text></g>
<g id="e28"><ellipse class="el" cx="1647.5" cy="1205.7" rx="40.5" ry="21.5"/><text class="te" x="1647.5" y="1217.7">e28</text></g>
<g id="e29"><ellipse class="el" cx="1647.5" cy="1259.1" rx="40.5" ry="21.5"/><text class="te" x="1647.5" y="1271.1">e29</text></g>
<g id="e30"><ellipse class="el" cx="1647.5" cy="1312.5" rx="40.5" ry="21.5"/><text class="te" x="1647.5" y="1324.5">e30</text></g>
<g id="e31"><ellipse class="el" cx="1647.5" cy="1365.8" rx="40.5" ry="21.5"/><text class="te" x="1647.5" y="1377.8">e31</text></g>
<g id="e32"><ellipse class="el" cx="1647.5" cy="1419.2" rx="40.5" ry="21.5"/><text class="te" x="1647.5" y="1431.2">e32</text></g>
<g id="e33"><ellipse class="el" cx="1647.5" cy="1472.6" rx="40.5" ry="21.5"/><text class="te" x="1647.5" y="1484.6">e33</text></g>
<g id="e34"><ellipse class="el" cx="1647.5" cy="1526" rx="40.5" ry="21.5"/><text class="te" x="1647.5" y="1538">e34</text></g>

<g id="top-labels">
<text class="tn" transform="translate(1123,248) scale(0.8,1)">-.22</text>
</g>
</svg>
